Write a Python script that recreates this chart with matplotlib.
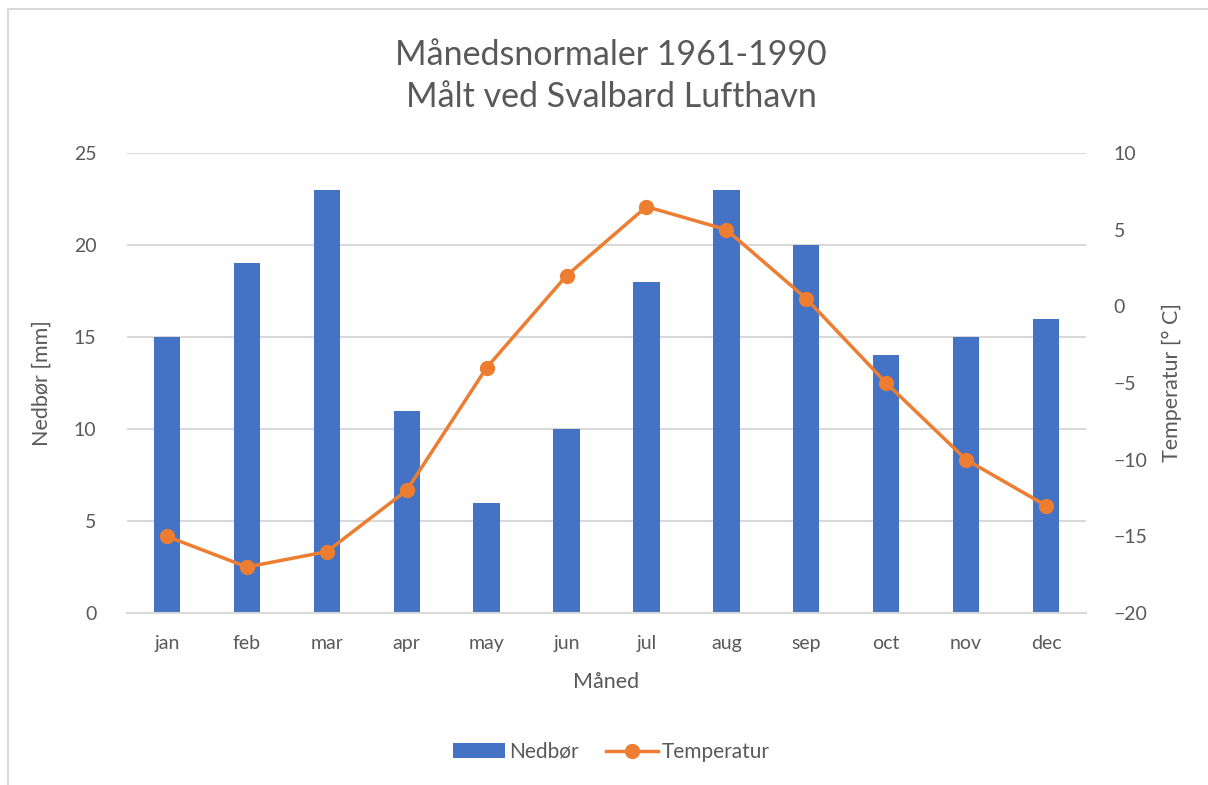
import matplotlib.pyplot as plt
from matplotlib.lines import Line2D
from matplotlib.patches import Patch, Rectangle
import numpy as np

plt.rcParams['font.family'] = ['Lato', 'DejaVu Sans']

months = ["jan", "feb", "mar", "apr", "may", "jun", "jul", "aug", "sep", "oct", "nov", "dec"]
nedbor = [15, 19, 23, 11, 6, 10, 18, 23, 20, 14, 15, 16]
temperatur = [-15, -17, -16, -12, -4, 2, 6.5, 5, 0.5, -5, -10, -13]
left_ticks = [0, 5, 10, 15, 20, 25]
right_ticks = [-20, -15, -10, -5, 0, 5, 10]

blue = "#4472C4"
orange = "#ED7D31"
txt = "#595959"
grid = "#D9D9D9"

fig = plt.figure(figsize=(12.08, 7.85), dpi=100)
# chart border (cut off on right/bottom like in the original)
fig.patches.append(Rectangle((8 / 1208, -0.1), 1.2, 1 - 9 / 785 + 0.1, transform=fig.transFigure,
                             fill=False, edgecolor=grid, linewidth=1.5))

ax = fig.add_axes([127 / 1208, 1 - 613 / 785, (1086 - 127) / 1208, (613 - 153) / 785])
x = np.arange(len(months))
ax.bar(x, nedbor, width=0.33, color=blue, zorder=2)
ax.set_xlim(-0.5, 11.5)
ax.set_ylim(0, 25)
ax.set_yticks(left_ticks)
ax.set_xticks(x)
ax.set_xticklabels(months)
ax.grid(axis='y', color=grid, linewidth=1.5, zorder=0)
ax.tick_params(length=0, labelsize=14, colors=txt, pad=16)
ax.tick_params(axis='y', pad=22)
for s in ["top", "left", "right"]:
    ax.spines[s].set_visible(False)
ax.spines["bottom"].set_color(grid)
ax.spines["bottom"].set_linewidth(1.5)
ax.set_xlabel("Måned", fontsize=15.5, color=txt, labelpad=14)
ax.set_ylabel("Nedbør [mm]", fontsize=15.5, color=txt, labelpad=16)

ax2 = ax.twinx()
ax2.plot(x, temperatur, color=orange, linewidth=2.5, marker='o', markersize=10, zorder=3)
ax2.set_ylim(-20, 10)
ax2.set_yticks(right_ticks)
ax2.tick_params(length=0, labelsize=14, colors=txt, pad=20)
for s in ["top", "left", "right", "bottom"]:
    ax2.spines[s].set_visible(False)
ax2.set_ylabel("Temperatur [° C]", fontsize=15.5, color=txt, labelpad=10)

fig.text(0.506, 1 - 76 / 785, "Månedsnormaler 1961-1990\nMålt ved Svalbard Lufthavn",
         ha='center', va='center', fontsize=24.5, color=txt, linespacing=1.35)

handles = [Patch(facecolor=blue, label="Nedbør"),
           Line2D([], [], color=orange, linewidth=2.5, marker='o', markersize=10, label="Temperatur")]
fig.legend(handles=handles, loc='center', bbox_to_anchor=(0.506, 1 - 752 / 785), ncol=2,
           frameon=False, fontsize=15, labelcolor=txt, handlelength=2.5, handletextpad=0.2,
           columnspacing=1.3)

fig.savefig("out.png", dpi=100)
